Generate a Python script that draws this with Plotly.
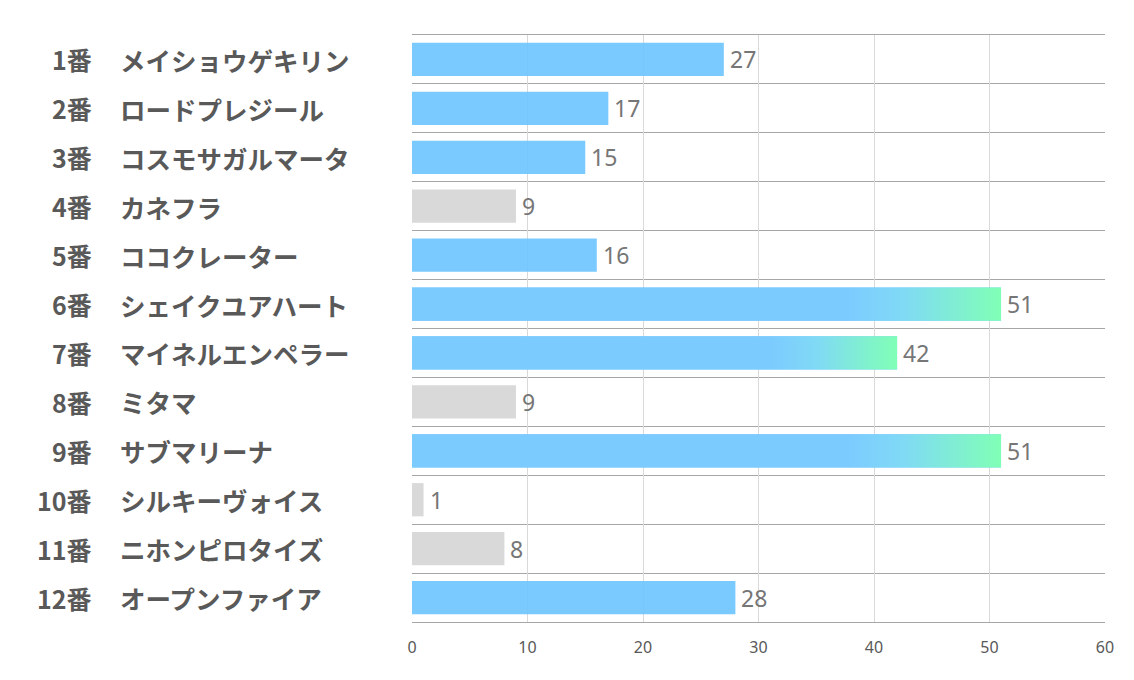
import plotly.graph_objects as go

numbers = ["1番", "2番", "3番", "4番", "5番", "6番", "7番", "8番", "9番", "10番", "11番", "12番"]
names = ["メイショウゲキリン", "ロードプレジール", "コスモサガルマータ", "カネフラ", "ココクレーター",
         "シェイクユアハート", "マイネルエンペラー", "ミタマ", "サブマリーナ", "シルキーヴォイス",
         "ニホンピロタイズ", "オープンファイア"]
values = [27, 17, 15, 9, 16, 51, 42, 9, 51, 1, 8, 28]
x_ticks = [0, 10, 20, 30, 40, 50, 60]

BLUE = "rgba(109,196,255,0.9)"
GREY = "rgba(213,213,213,0.9)"
BAR_W = 0.68

pos = list(range(len(values)))
colors = [GREY if v < 10 else BLUE for v in values]

fig = go.Figure()
fig.add_trace(go.Bar(
    x=values, y=pos, orientation="h", width=BAR_W,
    marker=dict(color=colors, line=dict(width=0)),
    hoverinfo="skip",
))

# gradient overlay for the top bars
for p, v in zip(pos, values):
    if v >= 40:
        fig.add_trace(go.Scatter(
            x=[0, v, v, 0, 0],
            y=[p - BAR_W / 2, p - BAR_W / 2, p + BAR_W / 2, p + BAR_W / 2, p - BAR_W / 2],
            mode="lines", line=dict(width=0), fill="toself",
            fillgradient=dict(type="horizontal",
                              colorscale=[[0, "#7ccbff"], [0.74, "#7ccbff"], [0.83, "#80d9f6"], [1, "#80ffb6"]]),
            hoverinfo="skip", showlegend=False,
        ))

# The page body has an 8px margin, so the figure is drawn 8px in from the corner
OFF = 8
L, R, T, B = 412 - OFF, 29, 35 - OFF, 58
W, H = 1134 - OFF, 680 - OFF
pw = W - L - R
num_font = dict(family="Noto Sans CJK JP", size=25, color="#595959", weight="bold")
name_font = dict(family="Noto Sans CJK JP", size=25.5, color="#595959", weight="bold")
for p, num, nm, v in zip(pos, numbers, names, values):
    fig.add_annotation(x=(94 - OFF - L) / pw, xref="paper", y=p, yref="y", text=num,
                       xanchor="right", yanchor="middle", showarrow=False, font=num_font)
    fig.add_annotation(x=(118 - OFF - L) / pw, xref="paper", y=p, yref="y", text=nm,
                       xanchor="left", yanchor="middle", showarrow=False, font=name_font)
    fig.add_annotation(x=v, xref="x", y=p, yref="y", text=str(v), xanchor="left", xshift=4,
                       yanchor="middle", showarrow=False,
                       font=dict(family="Noto Sans", size=23, color="#767676"))

fig.update_layout(
    width=W, height=H, margin=dict(l=L, r=R, t=T, b=B),
    paper_bgcolor="white", plot_bgcolor="white", showlegend=False,
    xaxis=dict(range=[0, 60], tickvals=x_ticks, showgrid=True, gridcolor="#d9d9d9", gridwidth=1,
               zeroline=False, showline=True, mirror=True, linecolor="#a6a6a6", linewidth=1,
               ticks="", ticklabelstandoff=11,
               tickfont=dict(family="Noto Sans", size=16, color="#595959")),
    yaxis=dict(range=[len(values) - 0.5, -0.5], tickvals=pos, showticklabels=False,
               showgrid=False, zeroline=False, showline=False, ticks="",
               minor=dict(tickvals=[p + 0.5 for p in pos[:-1]],
                          showgrid=True, gridcolor="#a6a6a6", gridwidth=1, ticks="")),
    bargap=0.32,
)

fig.write_html("out.html")
